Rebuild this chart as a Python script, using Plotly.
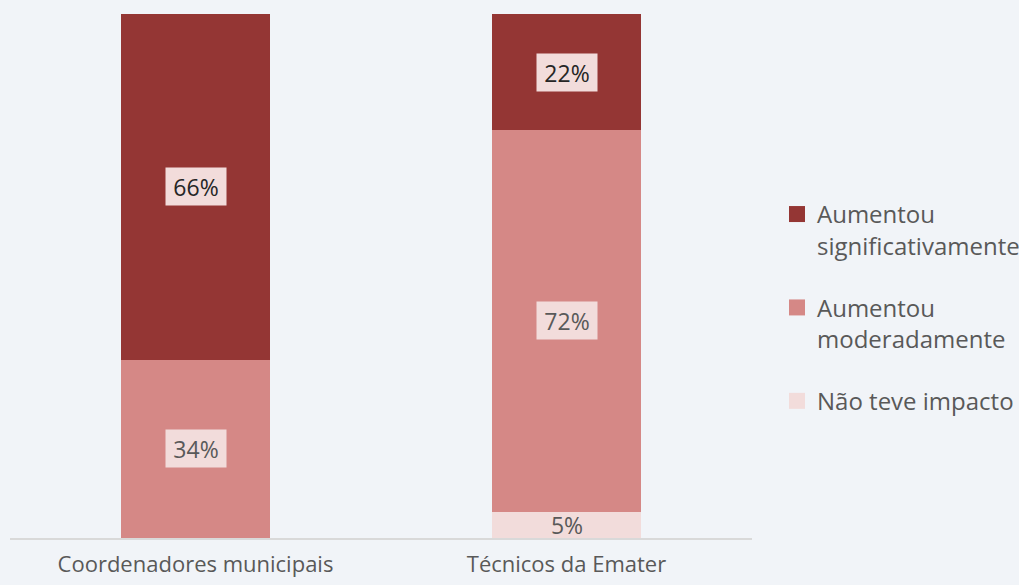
import plotly.graph_objects as go

categories = ["Coordenadores municipais", "Técnicos da Emater"]
series_names = ["Não teve impacto", "Aumentou moderadamente", "Aumentou significativamente"]
legend_labels = ["Não teve impacto", "Aumentou<br>moderadamente", "Aumentou<br>significativamente"]
nao_teve = [0, 5]
moderadamente = [34, 72]
significativamente = [66, 22]
colors = ["#F2DCDB", "#D58886", "#943634"]
label_colors = ["#595959", "#595959", "#262626"]
label_boxes = ["rgba(0,0,0,0)", "#F2DCDB", "#F2DCDB"]

values = [nao_teve, moderadamente, significativamente]

FONT = "Open Sans"
fig = go.Figure()
for name, vals, col in zip(series_names, values, colors):
    fig.add_trace(go.Bar(
        x=categories, y=vals, name=name, marker=dict(color=col, line=dict(width=0)),
        width=0.4, showlegend=False, hoverinfo="skip"))

# legend entries (top to bottom)
for i in [2, 1, 0]:
    fig.add_trace(go.Scatter(
        x=[None], y=[None], mode="markers", name=legend_labels[i],
        marker=dict(symbol="square", size=16, color=colors[i]),
        legendgroup="g" + str(i), showlegend=True))

# labels with boxes at segment midpoints (percent-normalised)
for ci, cat in enumerate(categories):
    total = sum(v[ci] for v in values)
    cum = 0
    for si, vals in enumerate(values):
        v = vals[ci]
        if v:
            mid = (cum + v / 2) / total * 100
            fig.add_annotation(
                x=cat, y=mid, text=f"{v}%", showarrow=False,
                font=dict(family=FONT, size=23, color=label_colors[si]),
                bgcolor=label_boxes[si], width=60, height=37, borderpad=0)
        cum += v

fig.update_layout(
    barmode="stack", barnorm="percent",
    width=1019, height=585,
    paper_bgcolor="#F1F4F8", plot_bgcolor="#F1F4F8",
    margin=dict(l=10, r=267, t=14, b=47, autoexpand=False),
    font=dict(family=FONT, color="#595959"),
    showlegend=True,
    legend=dict(x=1.0337, y=0.44, xanchor="left", yanchor="middle",
                font=dict(family=FONT, size=24, color="#595959"),
                valign="top", tracegroupgap=28, traceorder="grouped",
                bgcolor="rgba(0,0,0,0)"),
    xaxis=dict(showline=True, linecolor="#D9D9D9", linewidth=1.5, ticks="",
               tickfont=dict(family=FONT, size=22, color="#595959"),
               ticklabelstandoff=6,
               showgrid=False, zeroline=False),
    yaxis=dict(range=[0, 100], visible=False, showgrid=False, zeroline=False),
)

fig.write_html("out.html", config={"displayModeBar": False},
               post_script="document.body.style.margin='0';document.body.style.background='#F1F4F8';")
